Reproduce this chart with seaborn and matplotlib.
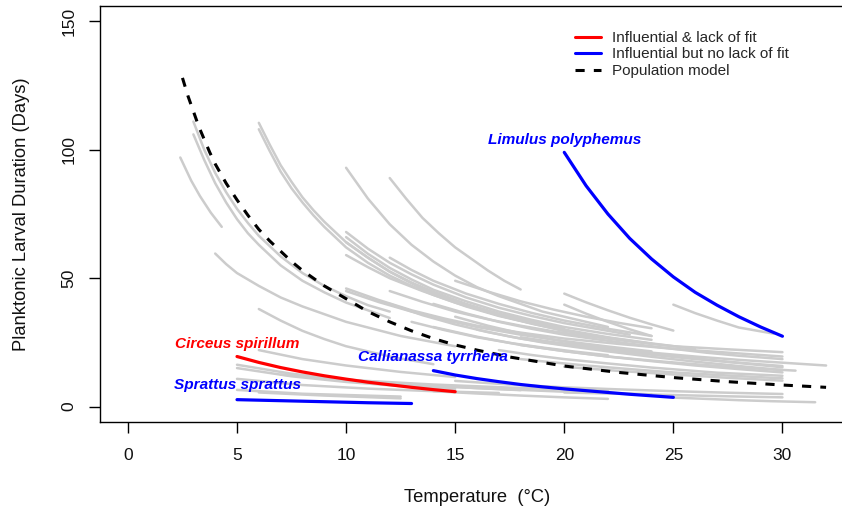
import matplotlib
matplotlib.use("Agg")
import matplotlib.pyplot as plt
from matplotlib.lines import Line2D
import seaborn as sns
import pandas as pd

# ---------------- data ----------------
# grey species curves: temperatures (°C) and planktonic larval duration (days)
gray_temp = [
    [2.4, 2.9, 3.3, 3.8, 4.3],
    [3, 3.5, 4, 4.5, 5, 5.5, 6, 7, 8, 9, 10, 11, 12],
    [3, 3.5, 4, 4.5, 5, 5.5, 6, 7, 8, 9, 10, 11, 12],
    [4, 4.5, 5, 6, 7, 8, 9, 10, 12.5, 15],
    [6, 7, 8, 9, 10, 12, 14],
    [6, 8, 10, 12.5, 15],
    [5, 7.5, 10, 12.5, 15, 18],
    [5, 7.5, 10, 12.5, 15],
    [5, 8, 11, 14, 17],
    [5, 8, 12.5],
    [6, 9, 12.5],
    [7, 10.5, 14, 17.5, 22],
    [10, 10.5, 11, 11.5, 12, 13, 14, 15, 16, 17, 19, 22],
    [12, 12.75, 13.5, 14.25, 15, 15.75, 16.5, 17.25, 18],
    [6, 6.5, 7, 7.5, 8, 8.5, 9, 10, 11, 12, 13, 14, 15.5, 17, 20],
    [6, 6.5, 7, 7.5, 8, 8.5, 9, 10, 11, 12, 13, 14, 15.5, 17, 20],
    [10, 11, 12, 13, 14, 15.5, 17, 18.5, 20, 23],
    [10, 11, 12, 13, 14, 15.5, 17, 18.5, 20, 22, 24],
    [10, 11, 12, 13, 14, 15.5, 17, 18.5, 20, 22, 24],
    [10, 11, 12, 13.5, 15, 16.5, 18, 20, 22, 24, 26],
    [10, 11.5, 13, 14.5, 16, 18, 20, 22.5, 25, 27.5, 30],
    [10, 11.5, 13, 14.5, 16, 18, 20, 22, 24],
    [12, 13, 14, 15.5, 17, 18.5, 20, 22, 24],
    [12, 13.5, 15, 16.5, 18, 19.5, 21, 23, 25, 27.5, 30],
    [15, 16.5, 18, 19.5, 21, 22.5, 24],
    [14, 15.5, 17, 18.5, 20, 21.5, 23, 24.5, 26.5, 28, 30],
    [12, 13.5, 15, 16.5, 18, 20, 22, 24, 26, 28, 30],
    [15, 16.5, 18, 19.5, 21, 23, 25, 27.5, 30],
    [16, 17.5, 19, 20.5, 22, 24, 26, 28, 30],
    [14, 16, 18, 20, 22, 24, 26, 28, 30.6],
    [18, 20, 22, 24, 26, 28, 30],
    [18, 19.5, 21, 22.5, 24, 26, 28, 30, 32],
    [17, 18.5, 20, 22, 24, 25.5, 27, 28.5, 30],
    [18, 19.5, 21, 23, 25, 27.5, 30],
    [20, 22.5, 25, 27.5, 30],
    [15, 17.5, 20, 22.5, 25, 27.5, 30],
    [20, 22.5, 25, 27.5, 30],
    [25, 26.5, 28, 29.5, 31.5],
    [14, 16, 18, 20, 22],
    [12.5, 14, 16, 18, 20, 22, 24],
    [20, 21, 22, 23, 24, 25],
    [20, 21, 22, 23, 24],
    [25, 26, 27, 28, 29.6],
    [13, 14.5, 16, 17.5, 19, 20.5, 22],
]
gray_pld = [
    [97, 88, 82, 75.5, 70],
    [111, 100, 91, 83.5, 77, 71.5, 66.5, 58.5, 52, 47, 43, 39.5, 37],
    [106, 96, 87, 79.5, 73, 67.5, 63, 55, 49, 44.5, 40.5, 37.5, 34.5],
    [59.6, 55.5, 52, 47, 42.5, 39, 36, 33, 27.5, 23.5],
    [38, 33.5, 29.5, 26.3, 23.5, 19.5, 16.5],
    [22, 18.5, 16, 13.5, 11.5],
    [16.3, 12.8, 10.5, 8.8, 7.6, 6.4],
    [15, 11.8, 9.6, 8.0, 6.9],
    [10.8, 8.4, 7.0, 6.0, 5.3],
    [6.5, 5.0, 3.9],
    [5.5, 4.3, 3.2],
    [12.5, 10.2, 8.6, 7.4, 6.2],
    [93, 87, 81, 76, 71, 63, 56.5, 51, 46.5, 43, 37, 31],
    [89, 81, 73.5, 67.5, 62, 57.5, 53, 49, 45.6],
    [110.5, 102, 94, 87.5, 81.5, 76.5, 72, 64, 58, 52.6, 48.3, 44.7, 40, 36.2, 30.3],
    [108, 99.5, 91.5, 85, 79.5, 74.5, 70, 62, 56, 51, 47, 43.5, 39, 35.3, 29.5],
    [68, 61.5, 56, 51.5, 47.5, 42.5, 38.5, 35.3, 32.5, 28],
    [66, 59.5, 54, 49.5, 45.5, 41, 37, 33.8, 31, 28.3, 26],
    [64, 58, 52.5, 48, 44, 39.5, 35.5, 32.3, 29.5, 26.8, 24.5],
    [59, 54.3, 50, 45, 40.5, 36.8, 33.5, 30, 27, 24.6, 22.5],
    [46, 41.5, 37.5, 34.3, 31.5, 28.8, 26.5, 24.4, 22.5, 21, 19.5],
    [45, 40.7, 37, 33.8, 31, 28, 25.5, 23.4, 21.5],
    [58, 53.2, 49, 44, 40, 36.5, 33.5, 30.3, 27.5],
    [45, 40.8, 37, 34, 31.5, 29.3, 27.5, 25.4, 23.5, 22.3, 21.2],
    [49, 44.8, 41, 37.8, 35, 32.6, 30.5],
    [40, 36.3, 33, 30.3, 28, 26.2, 24.5, 23, 21, 19.8, 18.5],
    [40, 35.6, 32, 29, 26.5, 24, 22, 20.2, 18.5, 17.1, 15.8],
    [35, 31.5, 28.5, 26.1, 24, 21.8, 19.8, 17.4, 15.3],
    [30, 27.3, 25, 23.2, 21.5, 19.4, 17.5, 15.8, 14.2],
    [31, 27.2, 24, 21.6, 19.5, 17.9, 16.5, 15.2, 14.0],
    [24, 21.6, 19.5, 17.7, 16, 14.6, 13.3],
    [27, 25.1, 23.5, 22.2, 21, 19.5, 18.2, 17.1, 16],
    [22, 20.1, 18.5, 16.8, 15.2, 14.2, 13.2, 12.6, 12.0],
    [18.5, 17.2, 16, 14.6, 13.3, 12.1, 11],
    [15.5, 13.9, 12.5, 11.2, 10.1],
    [10, 8.6, 7.5, 6.7, 6, 5.4, 4.9],
    [5.5, 5.0, 4.5, 4.0, 3.6],
    [3.5, 3.0, 2.5, 2.1, 1.7],
    [6, 5.1, 4.3, 3.6, 3.0],
    [9, 8.2, 7.2, 6.5, 5.8, 5.3, 4.8],
    [44, 40.6, 37.5, 34.6, 32, 29.6],
    [39.7, 36.2, 33, 30.1, 27.5],
    [39.7, 36.4, 33.5, 30.8, 28.4],
    [33, 29.8, 27, 24.8, 23, 21.4, 20],
]

# highlighted species
circeus_temp = [5, 6, 7, 8, 9, 10, 11, 12, 13, 14, 15]
circeus_pld = [19.5, 17.2, 15.2, 13.5, 12.0, 10.7, 9.5, 8.5, 7.5, 6.6, 5.8]
sprattus_temp = [5, 7, 9, 11, 13]
sprattus_pld = [2.7, 2.3, 1.9, 1.5, 1.2]
callianassa_temp = [14, 15, 16, 17, 18, 19, 20, 21, 22, 23, 24, 25]
callianassa_pld = [14.0, 12.3, 10.9, 9.7, 8.6, 7.7, 6.9, 6.2, 5.5, 4.8, 4.2, 3.6]
limulus_temp = [20, 21, 22, 23, 24, 25, 26, 27, 28, 29, 30]
limulus_pld = [99, 86, 75, 65.5, 57.5, 50.5, 44.5, 39.5, 35, 31, 27.4]

# population model
pop_temp = [2.5, 2.75, 3, 3.25, 3.5, 3.75, 4, 4.5, 5, 5.5, 6, 6.5, 7, 7.5, 8, 9, 10,
            11, 12, 13, 14, 15, 16, 17.5, 20, 22.5, 25, 27.5, 30, 32]
pop_pld = [128, 121, 115, 109, 104, 99, 94.5, 87, 80.5, 74.5, 69, 64.5, 60.5, 56.5, 53,
           47, 42, 37, 33, 29.5, 26.5, 24, 22, 19.3, 15.8, 13.3, 11.3, 9.7, 8.4, 7.5]

species_names = ["Circeus spirillum", "Sprattus sprattus", "Callianassa tyrrhena", "Limulus polyphemus"]
label_x = [5, 5, 14, 20]
label_y = [24.5, 8.5, 19.5, 104]
label_colors = ["#FF0000", "#0000FF", "#0000FF", "#0000FF"]

legend_labels = ["Influential & lack of fit", "Influential but no lack of fit", "Population model"]
x_ticks = [0, 5, 10, 15, 20, 25, 30]
y_ticks = [0, 50, 100, 150]

# ---------------- plotting ----------------
sns.set_style("ticks")
plt.rcParams["font.family"] = ["Liberation Sans", "DejaVu Sans"]

W, H = 842, 514
fig = plt.figure(figsize=(W / 100, H / 100), dpi=100)
ax = fig.add_axes([100 / W, (514 - 422) / H, 754 / W, 416 / H])

rows = []
for i, (ts, ps) in enumerate(zip(gray_temp, gray_pld)):
    for t, p in zip(ts, ps):
        rows.append({"curve": i, "temp": t, "pld": p})
gray_df = pd.DataFrame(rows)

sns.lineplot(data=gray_df, x="temp", y="pld", units="curve", estimator=None,
             color="#CCCCCC", linewidth=1.8, ax=ax, legend=False)

for ts, ps, col in [(circeus_temp, circeus_pld, "#FF0000"),
                    (sprattus_temp, sprattus_pld, "#0000FF"),
                    (callianassa_temp, callianassa_pld, "#0000FF"),
                    (limulus_temp, limulus_pld, "#0000FF")]:
    sns.lineplot(x=ts, y=ps, color=col, linewidth=2.3, ax=ax, legend=False)

sns.lineplot(x=pop_temp, y=pop_pld, color="black", linewidth=2.2, ax=ax, legend=False)
ax.lines[-1].set_linestyle((0, (3, 3)))

for name, x, y, c in zip(species_names, label_x, label_y, label_colors):
    ax.text(x, y, name, color=c, fontsize=11.1, fontweight="bold", fontstyle="italic",
            ha="center", va="center")

ax.set_xlim(-1.28, 33.28)
ax.set_ylim(-6, 156)
ax.set_xticks(x_ticks)
ax.set_xticklabels([str(v) for v in x_ticks])
ax.set_yticks(y_ticks)
ax.set_yticklabels([str(v) for v in y_ticks], rotation=90, va="center")
ax.tick_params(axis="both", direction="out", length=8, width=1.0, colors="black",
               labelsize=12.5, labelcolor="#111111")
ax.tick_params(axis="x", pad=11)
ax.tick_params(axis="y", pad=9)

for s in ["left", "bottom", "top", "right"]:
    ax.spines[s].set_visible(True)
    ax.spines[s].set_color("black")
    ax.spines[s].set_linewidth(1.0)

ax.set_xlabel("Temperature  (°C)", fontsize=13.2, color="#111111")
ax.set_ylabel("Planktonic Larval Duration (Days)", fontsize=13.2, color="#111111")
ax.xaxis.set_label_coords((477 - 100) / 754, (422 - 497) / 416)
ax.xaxis.label.set_va("center")
ax.yaxis.set_label_coords((22 - 100) / 754, 0.5)
ax.yaxis.label.set_va("center")

handles = [Line2D([0], [0], color="#FF0000", lw=2.2),
           Line2D([0], [0], color="#0000FF", lw=2.2),
           Line2D([0], [0], color="black", lw=2.2, linestyle=(0, (3, 3)))]
fig.legend(handles, legend_labels, loc="upper left",
           bbox_to_anchor=(575 / W, 1 - 31 / H), frameon=False, fontsize=11,
           handlelength=1.7, handletextpad=0.7, labelspacing=0.16,
           borderpad=0, borderaxespad=0)

fig.savefig("out.png", dpi=100)
